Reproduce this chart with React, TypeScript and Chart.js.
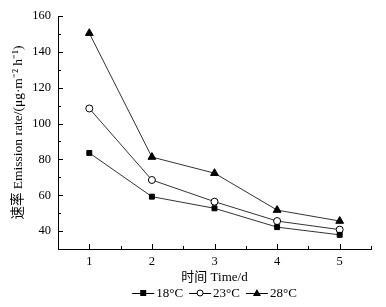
import React, { useEffect, useRef } from "react";
import { Chart, registerables } from "chart.js";

Chart.register(...registerables);

const days = [1, 2, 3, 4, 5];
const t18 = [83.6, 59.2, 52.7, 42.2, 37.9];
const t23 = [108.4, 68.5, 56.4, 45.6, 40.8];
const t28 = [150.4, 81.3, 72.3, 51.7, 45.6];
const seriesLabels = ["18°C", "23°C", "28°C"];
const yTitle = "速率 Emission rate/(μg·m⁻² h⁻¹)";
const xTitle = "时间 Time/d";

const FONT = '"Liberation Serif", "Noto Sans CJK SC", serif';

const drawMarker = (ctx: CanvasRenderingContext2D, kind: string, x: number, y: number) => {
  ctx.save();
  ctx.lineWidth = 1;
  ctx.strokeStyle = "#000";
  ctx.fillStyle = "#000";
  if (kind === "rect") {
    ctx.fillRect(x - 3, y - 3, 6, 6);
  } else if (kind === "circle") {
    ctx.fillStyle = "#fff";
    ctx.beginPath();
    ctx.arc(x, y, 3, 0, Math.PI * 2);
    ctx.fill();
    ctx.stroke();
  } else {
    ctx.beginPath();
    ctx.moveTo(x, y - 4);
    ctx.lineTo(x + 4, y + 3);
    ctx.lineTo(x - 4, y + 3);
    ctx.closePath();
    ctx.fill();
  }
  ctx.restore();
};

const customPlugin = {
  id: "custom",
  afterDraw(chart: any) {
    const ctx: CanvasRenderingContext2D = chart.ctx;
    const { chartArea } = chart;
    const xs = chart.scales.x;
    const ys = chart.scales.y;
    ctx.save();
    ctx.strokeStyle = "#000";
    ctx.lineWidth = 1;
    // inward ticks
    xs.ticks.forEach((t: any) => {
      const px = Math.round(xs.getPixelForValue(t.value)) + 0.5;
      const major = Number.isInteger(t.value);
      const len = major ? 5 : 3;
      ctx.beginPath();
      ctx.moveTo(px, chartArea.bottom);
      ctx.lineTo(px, chartArea.bottom - len);
      ctx.stroke();
    });
    ys.ticks.forEach((t: any) => {
      const py = Math.round(ys.getPixelForValue(t.value)) + 0.5;
      const major = t.value % 20 === 0;
      const len = major ? 5 : 3;
      ctx.beginPath();
      ctx.moveTo(chartArea.left, py);
      ctx.lineTo(chartArea.left + len, py);
      ctx.stroke();
    });
    // y title
    ctx.save();
    ctx.font = `13.5px ${FONT}`;
    ctx.fillStyle = "#000";
    ctx.textAlign = "center";
    ctx.textBaseline = "middle";
    ctx.translate(18, (chartArea.top + chartArea.bottom) / 2);
    ctx.rotate(-Math.PI / 2);
    ctx.fillText(yTitle, 0, 0);
    ctx.restore();
    // legend
    ctx.font = `13px ${FONT}`;
    ctx.fillStyle = "#000";
    ctx.textBaseline = "middle";
    ctx.textAlign = "left";
    const kinds = ["rect", "circle", "triangle"];
    const lineW = 22;
    const gap = 2;
    const itemGap = 6;
    const widths = seriesLabels.map((l) => lineW + gap + ctx.measureText(l).width);
    const total = widths.reduce((a, b) => a + b, 0) + itemGap * (widths.length - 1);
    let x = (chartArea.left + chartArea.right) / 2 - total / 2;
    const y = 293;
    seriesLabels.forEach((l, i) => {
      ctx.strokeStyle = "#000";
      ctx.beginPath();
      ctx.moveTo(x, y + 0.5);
      ctx.lineTo(x + lineW, y + 0.5);
      ctx.stroke();
      drawMarker(ctx, kinds[i], x + lineW / 2, y);
      ctx.fillStyle = "#000";
      ctx.fillText(l, x + lineW + gap, y + 1);
      x += widths[i] + itemGap;
    });
    ctx.restore();
  },
};

export default function App() {
  const ref = useRef<HTMLCanvasElement | null>(null);
  useEffect(() => {
    if (!ref.current) return;
    const mk = (data: number[], style: string, bg: string) => ({
      data: days.map((d, i) => ({ x: d, y: data[i] })),
      borderColor: "#333",
      borderWidth: 1,
      pointStyle: style,
      pointRadius: style === "triangle" ? 4.5 : 3.5,
      pointBackgroundColor: bg,
      pointBorderColor: "#000",
      pointBorderWidth: 1,
      tension: 0,
    });
    const chart = new Chart(ref.current, {
      type: "line",
      data: {
        datasets: [
          { label: seriesLabels[0], ...mk(t18, "rect", "#000") },
          { label: seriesLabels[1], ...mk(t23, "circle", "#fff") },
          { label: seriesLabels[2], ...mk(t28, "triangle", "#000") },
        ],
      },
      options: {
        animation: false,
        responsive: false,
        devicePixelRatio: 1,
        layout: { padding: { left: 0, right: 15, top: 16, bottom: 22 } },
        plugins: { legend: { display: false }, tooltip: { enabled: false } },
        scales: {
          x: {
            type: "linear",
            min: 0.5,
            max: 5.5,
            grid: { display: false, drawTicks: false },
            border: { display: true, color: "#000", width: 1 },
            afterBuildTicks: (s: any) => {
              const arr: any[] = [];
              for (let v = 0.5; v <= 5.5001; v += 0.5) arr.push({ value: Math.round(v * 10) / 10 });
              s.ticks = arr;
            },
            ticks: {
              autoSkip: false,
              maxRotation: 0,
              padding: 5,
              color: "#000",
              font: { family: FONT, size: 12.5 },
              callback: (v: any) => (Number.isInteger(v) ? String(v) : ""),
            },
            title: {
              display: true,
              text: xTitle,
              color: "#000",
              font: { family: FONT, size: 13 },
              padding: { top: 0, bottom: 0 },
            },
            afterFit: (s: any) => {
              s.height = 36;
            },
          },
          y: {
            type: "linear",
            min: 30,
            max: 160,
            grid: { display: false, drawTicks: false },
            border: { display: true, color: "#000", width: 1 },
            afterBuildTicks: (s: any) => {
              const arr: any[] = [];
              for (let v = 30; v <= 160; v += 10) arr.push({ value: v });
              s.ticks = arr;
            },
            ticks: {
              autoSkip: false,
              padding: 7,
              color: "#000",
              font: { family: FONT, size: 12.5 },
              callback: (v: any) => (v % 20 === 0 && v >= 40 ? String(v) : ""),
            },
            afterFit: (s: any) => {
              s.width = 58;
            },
          },
        },
      },
      plugins: [customPlugin],
    } as any);
    return () => chart.destroy();
  }, []);
  return (
    <div style={{ position: "absolute", left: 0, top: 0, width: 386, height: 307, background: "#fff" }}>
      <canvas ref={ref} width={386} height={307} style={{ display: "block", width: 386, height: 307 }} />
    </div>
  );
}
